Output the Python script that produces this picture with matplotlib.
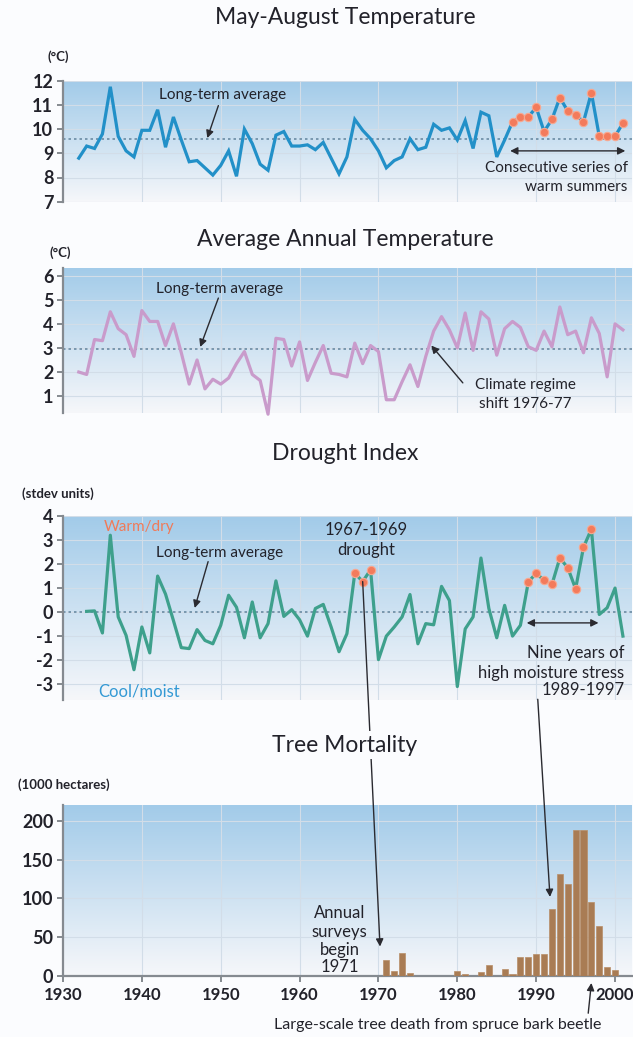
import numpy as np
import matplotlib
matplotlib.use("Agg")
import matplotlib.pyplot as plt
from matplotlib.patches import ConnectionPatch

plt.rcParams['font.family'] = ['Lato', 'DejaVu Sans']

# ---- data -----------------------------------------------------------------
summer_years = list(range(1932, 2002))
summer_temp = [8.8, 9.3, 9.2, 9.8, 11.75, 9.7, 9.1, 8.85, 9.95, 9.95,
               10.8, 9.25, 10.5, 9.55, 8.65, 8.7, 8.4, 8.1, 8.5, 9.1,
               8.05, 10.0, 9.4, 8.55, 8.3, 9.75, 9.9, 9.3, 9.3, 9.35,
               9.15, 9.45, 8.8, 8.15, 8.85, 10.4, 9.95, 9.6, 9.1, 8.4,
               8.7, 8.85, 9.6, 9.15, 9.25, 10.2, 9.95, 10.05, 9.55, 10.35,
               9.2, 10.7, 10.55, 8.85, 9.55, 10.3, 10.5, 10.5, 10.9, 9.9,
               10.4, 11.3, 10.75, 10.6, 10.3, 11.5, 9.7, 9.7, 9.7, 10.25]
summer_avg = 9.6
warm_run = (1987, 2001)

annual_years = list(range(1932, 2002))
annual_temp = [2.0, 1.9, 3.35, 3.3, 4.5, 3.8, 3.55, 2.65, 4.55, 4.1,
               4.1, 3.1, 4.0, 2.8, 1.5, 2.5, 1.3, 1.7, 1.5, 1.75,
               2.35, 2.85, 1.9, 1.65, 0.25, 3.4, 3.35, 2.25, 3.25, 1.65,
               2.4, 3.1, 1.95, 1.9, 1.8, 3.2, 2.35, 3.1, 2.85, 0.85,
               0.85, 1.6, 2.3, 1.4, 2.65, 3.7, 4.3, 3.75, 3.0, 4.45,
               2.9, 4.5, 4.2, 2.7, 3.8, 4.1, 3.85, 3.05, 2.9, 3.7,
               3.05, 4.7, 3.55, 3.7, 2.8, 4.25, 3.6, 1.8, 4.0, 3.75]
annual_avg = 2.95

drought_years = list(range(1933, 2002))
drought_index = [0.03, 0.05, -0.87, 3.2, -0.2, -0.97, -2.4, -0.62, -1.7, 1.5,
                 0.75, -0.35, -1.48, -1.52, -0.73, -1.18, -1.32, -0.55, 0.7, 0.2,
                 -1.07, 0.42, -1.07, -0.48, 1.3, -0.18, 0.1, -0.32, -1.0, 0.15,
                 0.32, -0.62, -1.65, -0.9, 1.62, 1.27, 1.76, -1.98, -1.0, -0.62,
                 -0.2, 0.73, -1.32, -0.48, -0.53, 1.07, 0.48, -3.1, -0.7, -0.2,
                 2.25, 0.15, -1.07, 0.28, -1.0, -0.55, 1.25, 1.62, 1.32, 1.15,
                 2.25, 1.85, 0.97, 2.7, 3.45, -0.1, 0.18, 1.0, -1.0]
drought_runs = [(1967, 1969), (1989, 1997)]

mortality_years = [1971, 1972, 1973, 1974, 1980, 1981, 1983, 1984, 1986, 1987,
                   1988, 1989, 1990, 1991, 1992, 1993, 1994, 1995, 1996, 1997,
                   1998, 1999, 2000]
mortality_kha = [20, 7, 30, 4, 7, 3, 5, 14, 9, 3,
                 25, 25, 28, 28, 86, 132, 119, 188, 188, 96,
                 64, 11, 8]

decade_ticks = list(range(1930, 2001, 10))

# ---- styling --------------------------------------------------------------
W, H = 633, 1037
fig = plt.figure(figsize=(W / 100, H / 100), dpi=100, facecolor='#fbfcfe')

TXT = '#22222a'
AX = '#858a90'
DOT_FC = '#f37b5c'
DOT_EC = '#f8a890'
X0, X1 = 1930, 2002.15


def px_axes(top, bottom, left=63, right=632):
    return fig.add_axes([left / W, 1 - bottom / H, (right - left) / W, (bottom - top) / H])


def style(ax, ylim, yticks, bottom_axis=False):
    n = 256
    t = np.linspace(0, 1, n)[:, None, None]
    top_c = np.array([162, 203, 233]) / 255
    bot_c = np.array([246, 247, 250]) / 255
    img = bot_c + (top_c - bot_c) * t
    ax.imshow(img, extent=[0, 1, 0, 1], transform=ax.transAxes, origin='lower',
              aspect='auto', zorder=0, interpolation='bilinear')
    ax.set_xlim(X0, X1)
    ax.set_ylim(*ylim)
    ax.set_yticks(yticks)
    ax.set_yticklabels([str(v) for v in yticks], fontsize=13, fontweight='bold', color=TXT)
    for v in yticks:
        ax.axhline(v, color='#d2dde8', lw=0.8, zorder=1)
    for v in decade_ticks[1:]:
        ax.axvline(v, color='#d2dde8', lw=0.8, zorder=1)
    for s in ['top', 'right']:
        ax.spines[s].set_visible(False)
    ax.spines['left'].set_color(AX)
    ax.spines['left'].set_linewidth(1.6)
    ax.tick_params(axis='y', direction='out', length=4, width=1.4, color=AX, pad=3)
    if bottom_axis:
        ax.spines['bottom'].set_color(AX)
        ax.spines['bottom'].set_linewidth(1.6)
        ax.set_xticks(decade_ticks)
        ax.set_xticklabels([str(v) for v in decade_ticks], fontsize=12,
                           fontweight='bold', color=TXT)
        ax.tick_params(axis='x', direction='out', length=4, width=1.4, color=AX, pad=4)
    else:
        ax.spines['bottom'].set_visible(False)
        ax.set_xticks([])


def avg_line(ax, v):
    ax.axhline(v, color='#6a8ba3', lw=1.2, ls=(0, (1.5, 1.8)), zorder=2)


def note(ax, s, x, y, **kw):
    kw.setdefault('ha', 'center')
    kw.setdefault('va', 'center')
    kw.setdefault('color', TXT)
    kw.setdefault('fontsize', 11)
    return ax.text(x, y, s, zorder=6, **kw)


def arrow(ax, xy_from, xy_to, style='-|>'):
    ax.annotate('', xy=xy_to, xytext=xy_from, zorder=6, annotation_clip=False,
                arrowprops=dict(arrowstyle=style, color='#2a2a30', lw=1.0,
                                mutation_scale=11, shrinkA=0, shrinkB=0))


def title(s, y):
    fig.text(345 / W, 1 - y / H, s, ha='center', va='center', fontsize=16.5,
             color=TXT, zorder=5,
             bbox=dict(boxstyle='square,pad=0.15', fc='#fbfcfe', ec='none'))


def unit(s, x, y, **kw):
    fig.text(x / W, 1 - y / H, s, ha=kw.pop('ha', 'left'), va='center',
             fontsize=9.5, color=TXT, fontweight='bold', **kw)


# ---- panel 1: May-August temperature --------------------------------------
ax1 = px_axes(80.7, 201.7)
style(ax1, (7, 12), [7, 8, 9, 10, 11, 12])
avg_line(ax1, summer_avg)
ax1.plot(summer_years, summer_temp, color='#2290c8', lw=2.3, zorder=3,
         solid_joinstyle='miter')
sy = np.array(summer_years)
sm = (sy >= warm_run[0]) & (sy <= warm_run[1])
ax1.plot(sy[sm], np.array(summer_temp)[sm], 'o', ms=6, mfc=DOT_FC, mec=DOT_EC,
         mew=0.8, zorder=4)
title('May-August Temperature', 18)
unit('(°C)', 58, 57, ha='center')
note(ax1, 'Long-term average', 1950.2, 11.41)
arrow(ax1, (1949.7, 10.97), (1948.3, 9.63))
arrow(ax1, (1986.7, 9.1), (2001.3, 9.1), style='<|-|>')
note(ax1, 'Consecutive series of', 2001.6, 8.39, ha='right')
note(ax1, 'warm summers', 2001.6, 7.6, ha='right')

# ---- panel 2: average annual temperature ----------------------------------
ax2 = px_axes(267.7, 413)
style(ax2, (0.3, 6.33), [1, 2, 3, 4, 5, 6])
avg_line(ax2, annual_avg)
ax2.plot(annual_years, annual_temp, color='#c99bcb', lw=2.3, zorder=3, clip_on=False)
title('Average Annual Temperature', 240)
unit('(°C)', 60, 253, ha='center')
note(ax2, 'Long-term average', 1949.9, 5.45)
arrow(ax2, (1949.7, 5.07), (1947.4, 3.04))
note(ax2, 'Climate regime', 1988.6, 1.46)
note(ax2, 'shift 1976-77', 1988.6, 0.68)
arrow(ax2, (1980.7, 1.55), (1976.7, 3.1))

# ---- panel 3: drought index -----------------------------------------------
ax3 = px_axes(516, 700)
style(ax3, (-3.66, 4), [-3, -2, -1, 0, 1, 2, 3, 4])
ax3.set_yticklabels(['-3', '-2', '-1', '0', '1', '2', '3', '4'], fontsize=13,
                    fontweight='bold', color=TXT)
avg_line(ax3, 0)
ax3.plot(drought_years, drought_index, color='#3ea08c', lw=2.3, zorder=3)
dy = np.array(drought_years)
for a, b in drought_runs:
    m = (dy >= a) & (dy <= b)
    ax3.plot(dy[m], np.array(drought_index)[m], 'o', ms=6, mfc=DOT_FC,
             mec=DOT_EC, mew=0.8, zorder=4)
title('Drought Index', 453)
unit('(stdev units)', 22, 494)
note(ax3, 'Warm/dry', 1939.6, 3.54, color='#f07a58')
note(ax3, 'Cool/moist', 1939.6, -3.3, color='#3399d4', fontsize=12)
note(ax3, 'Long-term average', 1949.9, 2.48)
arrow(ax3, (1948.4, 2.1), (1946.7, 0.17))
note(ax3, '1967-1969', 1968.4, 3.42, fontsize=12)
note(ax3, 'drought', 1968.4, 2.59, fontsize=12)
arrow(ax3, (1988.8, -0.45), (1997.9, -0.45), style='<|-|>')
note(ax3, 'Nine years of', 2001.2, -1.7, ha='right', fontsize=12)
note(ax3, 'high moisture stress', 2001.2, -2.53, ha='right', fontsize=12)
note(ax3, '1989-1997', 2001.2, -3.25, ha='right', fontsize=12)

# ---- panel 4: tree mortality ----------------------------------------------
ax4 = px_axes(805, 976)
style(ax4, (0, 220.6), [0, 50, 100, 150, 200], bottom_axis=True)
ax4.bar(mortality_years, mortality_kha, width=0.78, color='#a97c54',
        edgecolor='#b88e68', linewidth=0.5, zorder=3)
title('Tree Mortality', 745)
unit('(1000 hectares)', 18, 785)
for s, yv in [('Annual', 81), ('surveys', 57), ('begin', 33.5), ('1971', 11.6)]:
    note(ax4, s, 1965.1, yv, fontsize=12)
fig.text(438 / W, 1 - 1025 / H, 'Large-scale tree death from spruce bark beetle',
         ha='center', va='center', fontsize=11.5, color=TXT)
arrow(ax4, (1996.6, -48), (1997.0, -9))

# connectors from drought episodes down to the mortality response
for (xa, ya), (xb, yb) in [((1968, 1.27), (1970.2, 38)),
                           ((1990.2, -3.63), (1991.75, 102))]:
    con = ConnectionPatch(xyA=(xa, ya), coordsA=ax3.transData,
                          xyB=(xb, yb), coordsB=ax4.transData,
                          arrowstyle='-|>', color='#2a2a30', lw=1.0,
                          mutation_scale=11, shrinkA=0, shrinkB=0, zorder=2)
    fig.add_artist(con)

fig.savefig('out.png', dpi=100, facecolor=fig.get_facecolor())
